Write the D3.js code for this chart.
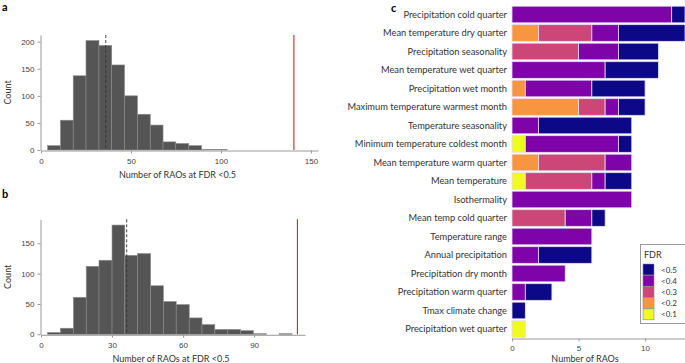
<!DOCTYPE html>
<html>
<head>
<meta charset="utf-8">
<script src="https://cdn.jsdelivr.net/npm/d3@7"></script>
<style>
  body { margin: 0; background: #fff; }
  svg { display: block; font-family: Lato, "Noto Sans", sans-serif; }
  .axis path, .axis line { stroke: #9a9a9a; }
  .axis text { fill: #444; font-size: 8px; }
</style>
</head>
<body>
<div id="container"></div>
<script>
// canvas
let width = 685;
let height = 363;

// panel a: permuted counts of RAOs
var aEdges = [3.7, 10.8, 17.9, 25.0, 32.2, 39.3, 46.4, 53.6, 60.7, 67.8, 74.9, 82.1, 89.2, 96.3, 103.4];
var aCounts = [8, 55, 137, 202, 193, 157, 100, 66, 46, 15, 12, 8, 1, 1];
var aMean = 36;
var aObserved = 140.5;
var aTicksX = [0, 50, 100, 150];
var aTicksY = [0, 50, 100, 150, 200];

// panel b
var bEdges = [2.8, 8.2, 13.7, 19.1, 24.5, 30.0, 35.4, 40.8, 46.3, 51.7, 57.1, 62.6, 68.0, 73.4, 78.9, 84.3, 89.7, 95.2, 100.6, 106.0];
var bCounts = [3, 10, 61, 112, 122, 180, 130, 133, 80, 54, 49, 27, 16, 8, 8, 6, 1, 0, 1];
var bMean = 36.2;
var bObserved = 108.3;
var bTicksX = [0, 30, 60, 90];
var bTicksY = [0, 50, 100, 150];

// panel c: RAOs per variable, split by FDR
var variables = ["Precipitation cold quarter", "Mean temperature dry quarter", "Precipitation seasonality",
  "Mean temperature wet quarter", "Precipitation wet month", "Maximum temperature warmest month",
  "Temperature seasonality", "Minimum temperature coldest month", "Mean temperature warm quarter",
  "Mean temperature", "Isothermality", "Mean temp cold quarter", "Temperature range",
  "Annual precipitation", "Precipitation dry month", "Precipitation warm quarter",
  "Tmax climate change", "Precipitation wet quarter"];
var fdr01 = [0, 0, 0, 0, 0, 0, 0, 1, 0, 1, 0, 0, 0, 0, 0, 0, 0, 1];
var fdr02 = [0, 2, 0, 0, 1, 5, 0, 0, 2, 0, 0, 0, 0, 0, 0, 0, 0, 0];
var fdr03 = [0, 4, 5, 0, 0, 2, 0, 0, 5, 5, 0, 4, 0, 0, 0, 0, 0, 0];
var fdr04 = [12, 2, 3, 7, 5, 1, 2, 7, 2, 1, 9, 2, 6, 2, 4, 1, 0, 0];
var fdr05 = [1, 5, 3, 4, 4, 2, 7, 1, 0, 2, 0, 1, 0, 4, 0, 2, 1, 0];
var fdrKeys = ["<0.1", "<0.2", "<0.3", "<0.4", "<0.5"];
var fdrColors = ["#f0f921", "#f89540", "#cc4778", "#7e03a8", "#0d0887"];
var cTicksX = [0, 5, 10];

var svg = d3.select("#container").append("svg")
  .attr("width", width)
  .attr("height", height);

// histogram panel
function histPanel(edges, counts, mean, observed, ticksX, ticksY, box) {
  var x = d3.scaleLinear().domain(box.xDomain).range([box.left, box.right]);
  var y = d3.scaleLinear().domain(box.yDomain).range([box.bottom, box.top]);
  var bins = counts.map(function(c, i) { return {x0: edges[i], x1: edges[i + 1], n: c}; });
  var g = svg.append("g");

  g.append("g").selectAll("rect").data(bins).enter().append("rect")
    .attr("x", function(d) { return x(d.x0); })
    .attr("width", function(d) { return x(d.x1) - x(d.x0); })
    .attr("y", function(d) { return y(d.n); })
    .attr("height", function(d) { return y(0) - y(d.n); })
    .attr("fill", "#555")
    .attr("stroke", "#8c8c8c")
    .attr("stroke-width", 0.6);

  g.append("line")
    .attr("x1", x(mean)).attr("x2", x(mean))
    .attr("y1", box.top).attr("y2", box.bottom)
    .attr("stroke", "#333").attr("stroke-width", 0.9)
    .attr("stroke-dasharray", "3,2");
  g.append("line")
    .attr("x1", x(observed)).attr("x2", x(observed))
    .attr("y1", box.top).attr("y2", box.bottom)
    .attr("stroke", "#e8191f").attr("stroke-width", 1.1);

  g.append("g").attr("class", "axis")
    .attr("transform", "translate(0," + (box.bottom + 0.5) + ")")
    .call(d3.axisBottom(x).tickValues(ticksX).tickSize(3).tickPadding(5).tickSizeOuter(0));
  g.append("g").attr("class", "axis")
    .attr("transform", "translate(" + (box.left - 0.5) + ",0)")
    .call(d3.axisLeft(y).tickValues(ticksY).tickSize(3).tickSizeOuter(0));

  g.append("text")
    .attr("x", (box.left + box.right) / 2 - 2).attr("y", box.bottom + 28)
    .attr("text-anchor", "middle").attr("font-size", 9).attr("fill", "#333")
    .text("Number of RAOs at FDR <0.5");
  g.append("text")
    .attr("transform", "translate(11," + ((box.top + box.bottom) / 2) + ") rotate(-90)")
    .attr("text-anchor", "middle").attr("font-size", 9).attr("fill", "#333")
    .text("Count");
}

histPanel(aEdges, aCounts, aMean, aObserved, aTicksX, aTicksY,
  {left: 41, right: 318, top: 35, bottom: 150, xDomain: [0, 153.9], yDomain: [0, 212.3]});
histPanel(bEdges, bCounts, bMean, bObserved, bTicksX, bTicksY,
  {left: 41, right: 305, top: 219.3, bottom: 334.3, xDomain: [0, 111.5], yDomain: [0, 189.5]});

// panel letters
svg.append("text").attr("x", 2).attr("y", 11).attr("font-size", 11).attr("font-weight", "bold").text("a");
svg.append("text").attr("x", 2).attr("y", 198).attr("font-size", 11).attr("font-weight", "bold").text("b");
svg.append("text").attr("x", 391).attr("y", 12).attr("font-size", 11).attr("font-weight", "bold").text("c");

// stacked bars
var rows = variables.map(function(v, i) {
  return {name: v, "<0.1": fdr01[i], "<0.2": fdr02[i], "<0.3": fdr03[i], "<0.4": fdr04[i], "<0.5": fdr05[i]};
});
var stack = d3.stack().keys(fdrKeys)(rows);
var cx = d3.scaleLinear().domain([0, 13]).range([512, 685]);
var cy = d3.scaleBand().domain(variables).range([5.25, 338.25]).paddingInner(0.1).paddingOuter(0.05);
var color = d3.scaleOrdinal().domain(fdrKeys).range(fdrColors);

var gc = svg.append("g");
gc.selectAll("g.layer").data(stack).enter().append("g")
  .attr("class", "layer")
  .attr("fill", function(d) { return color(d.key); })
  .selectAll("rect").data(function(d) { return d.filter(function(s) { return s[1] > s[0]; }); })
  .enter().append("rect")
  .attr("x", function(d) { return cx(d[0]); })
  .attr("width", function(d) { return cx(d[1]) - cx(d[0]); })
  .attr("y", function(d) { return cy(d.data.name); })
  .attr("height", cy.bandwidth())
  .attr("stroke", "#e4dff0")
  .attr("stroke-width", 0.8);

gc.append("g").selectAll("text").data(variables).enter().append("text")
  .attr("x", 507)
  .attr("y", function(d) { return cy(d) + cy.bandwidth() / 2; })
  .attr("dy", "0.35em")
  .attr("text-anchor", "end")
  .attr("font-size", 9.3)
  .attr("fill", "#333")
  .text(function(d) { return d; });

gc.append("g").attr("class", "axis")
  .attr("transform", "translate(0,338.5)")
  .call(d3.axisBottom(cx).tickValues(cTicksX).tickSize(3).tickPadding(4).tickSizeOuter(0));

gc.append("text")
  .attr("x", 585).attr("y", 361.5)
  .attr("text-anchor", "middle").attr("font-size", 9).attr("fill", "#333")
  .text("Number of RAOs");

// legend
var lg = svg.append("g").attr("transform", "translate(640,244)");
lg.append("rect").attr("x", 0.5).attr("y", 0.5).attr("width", 50).attr("height", 79)
  .attr("fill", "#fff").attr("stroke", "#999");
lg.append("text").attr("x", 4).attr("y", 14).attr("font-size", 9).attr("fill", "#333").text("FDR");
var legendKeys = fdrKeys.slice().reverse();
var items = lg.selectAll("g.item").data(legendKeys).enter().append("g")
  .attr("class", "item")
  .attr("transform", function(d, i) { return "translate(3," + (20 + i * 11.2) + ")"; });
items.append("rect").attr("width", 11).attr("height", 11)
  .attr("fill", function(d) { return color(d); })
  .attr("stroke", "#888").attr("stroke-width", 0.6);
items.append("text").attr("x", 18).attr("y", 8.5).attr("font-size", 8).attr("fill", "#333")
  .text(function(d) { return d; });
</script>
</body>
</html>
